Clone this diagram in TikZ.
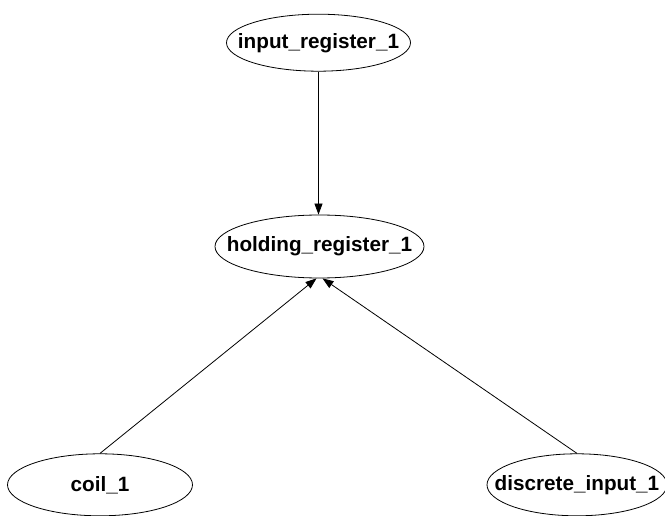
\documentclass[tikz,border=0pt]{standalone}
\usepackage{fontspec}
\setmainfont{Liberation Sans}
\usetikzlibrary{arrows.meta, positioning, shapes.geometric}

\begin{document}
\begin{tikzpicture}[
x=1pt, y=-1pt,
>={Triangle[length=11pt,width=8pt]},
line width=0.8pt,
every node/.style={font=\fontsize{20.7}{25}\selectfont\bfseries},
reg/.style={ellipse, draw, inner sep=-40pt}
]

\useasboundingbox (0,0) rectangle (665,516);

\node (holding) [reg, minimum width=209pt, minimum height=63pt] at (319.5,246.5) {holding\_register\_1};
\node (input) [reg, minimum width=184pt, minimum height=57pt, above=143pt of holding, xshift=-1pt] {input\_register\_1};

\node (coil) [reg, minimum width=185pt, minimum height=62pt, below=175pt of holding, xshift=-219.5pt] {coil\_1};
\node (discrete) [reg, minimum width=180pt, minimum height=62pt, below=175pt of holding, xshift=257.5pt] {discrete\_input\_1};

\draw[->] (input.south) -- (input.south |- holding.north);
\draw[->] (coil.north) -- ([xshift=-3pt]holding.south);
\draw[->] (discrete.north) -- ([xshift=3pt]holding.south);

\end{tikzpicture}
\end{document}
